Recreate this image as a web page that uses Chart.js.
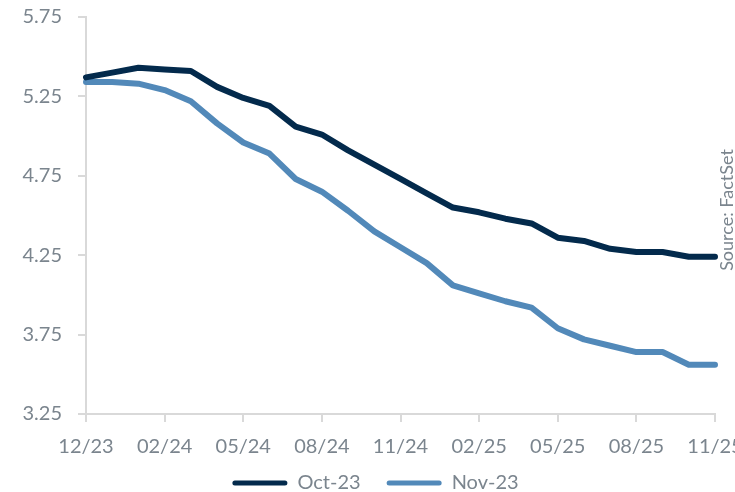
<!DOCTYPE html>
<html>
<head>
<meta charset="utf-8">
<script src="https://cdn.jsdelivr.net/npm/chart.js@4"></script>
<style>
  html, body { margin: 0; padding: 0; background: #fff; }
  #wrap { width: 735px; height: 492px; }
</style>
</head>
<body>
<div id="wrap"><canvas id="myChart" width="735" height="492"></canvas></div>
<script>
/* Data */

const labels = ['12/23', '12/23', '01/24', '02/24', '03/24', '04/24', '05/24', '06/24', '07/24',
    '08/24', '09/24', '10/24', '11/24', '12/24', '01/25', '02/25', '03/25', '04/25', '05/25',
    '06/25', '07/25', '08/25', '09/25', '10/25', '11/25']
const oct23 = [5.37, 5.40, 5.43, 5.42, 5.41, 5.31, 5.24, 5.19, 5.06, 5.01, 4.91, 4.82, 4.73,
    4.64, 4.55, 4.52, 4.48, 4.45, 4.36, 4.34, 4.29, 4.27, 4.27, 4.24, 4.24]
const nov23 = [5.34, 5.34, 5.33, 5.29, 5.22, 5.08, 4.96, 4.89, 4.73, 4.65, 4.53, 4.40, 4.30,
    4.20, 4.06, 4.01, 3.96, 3.92, 3.79, 3.72, 3.68, 3.64, 3.64, 3.56, 3.56]
const yTicks = [3.25, 3.75, 4.25, 4.75, 5.25, 5.75]

/* Chart */

const dark = '#032a4c'
const light = '#5289b9'
const grey = '#7b858e'
const axisGrey = '#d9d9d9'
const fontFamily = 'Lato, "Open Sans", sans-serif'

const sourceNote = {
    id: 'sourceNote',
    afterLayout(chart) {
        // legend sits a little right of centre in the original
        chart.legend.left += 18
        chart.legend.right += 18
        // let the x labels run below the axis box without being clipped
        chart.scales.x.bottom = chart.height
    },
    afterDraw(chart) {
        const c = chart.ctx
        c.save()
        c.translate(727, 210)
        c.rotate(-Math.PI / 2)
        c.fillStyle = grey
        c.font = '18px ' + fontFamily
        c.textAlign = 'center'
        c.textBaseline = 'middle'
        c.fillText('Source: FactSet', 0, 0)
        c.restore()
    }
}

const ctx = document.getElementById('myChart');
new Chart(ctx, {
    type: 'line',
    data: {
        labels,
        datasets: [{
            label: 'Oct-23',
            data: oct23,
            borderWidth: 6,
            borderColor: dark,
            backgroundColor: dark,
            pointRadius: 0,
            tension: 0,
            borderJoinStyle: 'round',
            borderCapStyle: 'round'
        }, {
            label: 'Nov-23',
            data: nov23,
            borderWidth: 6,
            borderColor: light,
            backgroundColor: light,
            pointRadius: 0,
            tension: 0,
            borderJoinStyle: 'round',
            borderCapStyle: 'round'
        }]
    },
    options: {
        responsive: false,
        animation: false,
        layout: {
            padding: {top: 17, right: 20, left: 0, bottom: -11}
        },
        scales: {
            x: {
                afterFit: (scale) => { scale.height = 33; scale.paddingRight = 0; scale.paddingLeft = 0 },
                border: {color: axisGrey, width: 2},
                grid: {
                    drawOnChartArea: false,
                    tickLength: 8,
                    lineWidth: 2,
                    color: (c) => c.index % 3 === 0 ? axisGrey : 'rgba(0,0,0,0)'
                },
                ticks: {
                    autoSkip: false,
                    maxRotation: 0,
                    padding: 13,
                    color: grey,
                    font: {family: fontFamily, size: 20},
                    callback: (v, i) => i % 3 === 0 ? labels[i] : ''
                }
            },
            y: {
                min: yTicks[0],
                max: yTicks[yTicks.length - 1],
                afterFit: (scale) => { scale.width = 86; scale.paddingTop = 0; scale.paddingBottom = 0 },
                afterBuildTicks: (scale) => { scale.ticks = yTicks.map((v) => ({value: v})) },
                border: {color: axisGrey, width: 2},
                grid: {
                    drawOnChartArea: false,
                    tickLength: 8,
                    lineWidth: 2,
                    color: axisGrey
                },
                ticks: {
                    padding: 16,
                    color: grey,
                    font: {family: fontFamily, size: 20},
                    callback: (v) => v.toFixed(2)
                }
            }
        },
        plugins: {
            legend: {
                position: 'bottom',
                labels: {
                    boxWidth: 55,
                    boxHeight: 5,
                    padding: 26,
                    useBorderRadius: true,
                    borderRadius: 2.5,
                    color: grey,
                    font: {family: fontFamily, size: 20},
                    generateLabels: (chart) => Chart.defaults.plugins.legend.labels.generateLabels(chart)
                        .map((item) => Object.assign(item, {lineWidth: 0}))
                }
            },
            tooltip: {enabled: false}
        }
    },
    plugins: [sourceNote]
});
</script>
</body>
</html>
